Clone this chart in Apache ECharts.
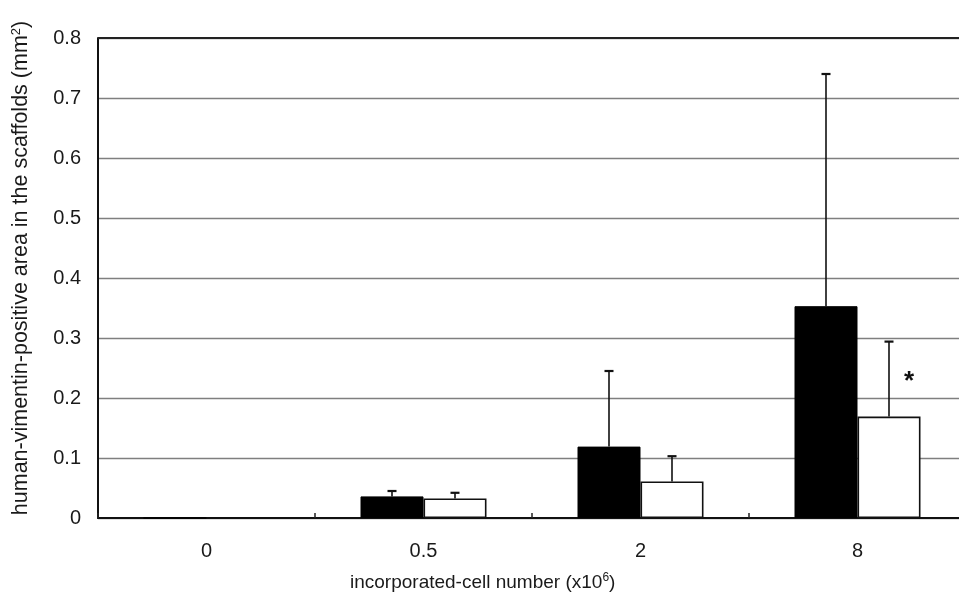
<!DOCTYPE html>
<html>
<head>
<meta charset="utf-8">
<script src="https://cdn.jsdelivr.net/npm/echarts@6/dist/echarts.min.js"></script>
<style>html,body{margin:0;padding:0;background:#fff}#c{width:959px;height:597px}</style>
</head>
<body>
<div id="c"></div>
<script>
const categories = ['0', '0.5', '2', '8'];
const blackValues = [0, 0.036, 0.119, 0.353];
const blackErrTop = [null, 0.045, 0.245, 0.740];
const whiteValues = [0, 0.0325, 0.061, 0.169];
const whiteErrTop = [null, 0.042, 0.103, 0.294];
const yTicks = [0, 0.1, 0.2, 0.3, 0.4, 0.5, 0.6, 0.7, 0.8];

const FONT = '"Liberation Sans", Arial, sans-serif';
const BAR_W = 63;

function errSeries(values, tops, side) {
  return {
    type: 'custom',
    z: 5,
    silent: true,
    data: categories.map((c, i) => [i, values[i], tops[i]]),
    renderItem: function (params, api) {
      const top = api.value(2);
      if (top === null || top === undefined || isNaN(top)) return null;
      const base = api.coord([api.value(0), api.value(1)]);
      const up = api.coord([api.value(0), top]);
      const x = base[0] + side * BAR_W / 2;
      return {
        type: 'group',
        children: [
          { type: 'line', shape: { x1: x, y1: base[1], x2: x, y2: up[1] }, style: { stroke: '#111', lineWidth: 1.6 } },
          { type: 'line', shape: { x1: x - 4.5, y1: up[1], x2: x + 4.5, y2: up[1] }, style: { stroke: '#111', lineWidth: 2.2 } }
        ]
      };
    }
  };
}

const chart = echarts.init(document.getElementById('c'), null, { renderer: 'canvas' });
chart.setOption({
  animation: false,
  backgroundColor: '#fff',
  grid: { left: 98, right: -7, top: 38, bottom: 79, outerBoundsMode: 'none', containLabel: false },
  xAxis: {
    type: 'category',
    data: categories,
    axisLine: { lineStyle: { color: '#111', width: 2 } },
    axisTick: { show: true, inside: true, length: 5, lineStyle: { color: '#222', width: 1.5 } },
    axisLabel: { color: '#1a1a1a', fontSize: 20, fontFamily: FONT, margin: 23 },
    splitLine: { show: false }
  },
  yAxis: {
    type: 'value',
    min: 0, max: 0.8, interval: 0.1,
    axisLine: { show: true, lineStyle: { color: '#111', width: 2 } },
    axisTick: { show: false },
    axisLabel: {
      color: '#1a1a1a', fontSize: 20, fontFamily: FONT, margin: 17,
      formatter: v => { const t = yTicks.find(k => Math.abs(k - v) < 1e-9); return t === 0 ? '0' : String(+t.toFixed(1)); }
    },
    splitLine: { show: true, lineStyle: { color: '#7f7f7f', width: 1.3 } }
  },
  series: [
    {
      type: 'bar',
      name: 'black',
      data: blackValues,
      barWidth: BAR_W,
      barGap: '0%',
      itemStyle: { color: '#000', borderColor: '#000', borderWidth: 1 },
      markLine: {
        silent: true, symbol: 'none', label: { show: false },
        lineStyle: { color: '#222', width: 2, type: 'solid' },
        data: [{ yAxis: 0.8 }]
      }
    },
    {
      type: 'bar',
      name: 'white',
      data: whiteValues,
      barWidth: BAR_W,
      barGap: '0%',
      itemStyle: { color: '#fff', borderColor: '#111', borderWidth: 1.6 },
      markPoint: {
        symbol: 'circle', symbolSize: 0,
        label: { show: true, formatter: '*', fontSize: 26, fontWeight: 'bold', color: '#111', fontFamily: FONT, offset: [20, 2] },
        data: [{ coord: ['8', 0.23] }]
      }
    },
    errSeries(blackValues, blackErrTop, -1),
    errSeries(whiteValues, whiteErrTop, 1)
  ],
  graphic: [
    {
      type: 'text',
      x: 21,
      y: 268,
      rotation: Math.PI / 2,
      style: {
        text: '{a|human-vimentin-positive area in the scaffolds (mm}{s|2}{a|)}',
        align: 'center',
        verticalAlign: 'middle',
        rich: {
          a: { fontSize: 21.5, fontFamily: FONT, fill: '#1a1a1a' },
          s: { fontSize: 13, fontFamily: FONT, fill: '#1a1a1a', verticalAlign: 'top', padding: [0, 0, 10, 0] }
        }
      }
    },
    {
      type: 'text',
      left: 350,
      top: 572,
      style: {
        text: '{a|incorporated-cell number (x10}{s|6}{a|)}',
        rich: {
          a: { fontSize: 19, fontFamily: FONT, fill: '#1a1a1a' },
          s: { fontSize: 12, fontFamily: FONT, fill: '#1a1a1a', verticalAlign: 'top', padding: [0, 0, 9, 0] }
        }
      }
    }
  ]
});
</script>
</body>
</html>
